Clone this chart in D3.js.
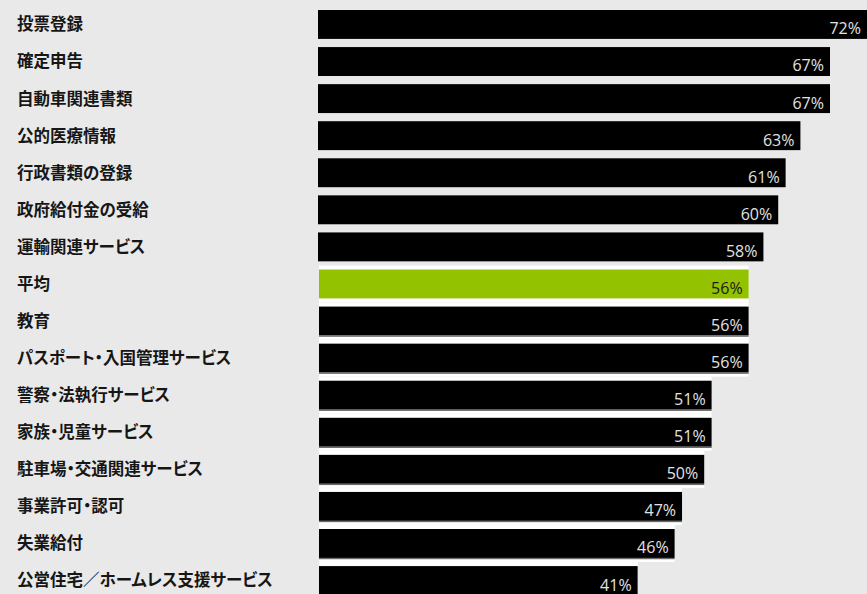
<!DOCTYPE html>
<html><head><meta charset="utf-8">
<script src="https://cdn.jsdelivr.net/npm/d3@7/dist/d3.min.js"></script>
<style>
html,body{margin:0;padding:0;background:#e9e9e9;}
svg{display:block;}
</style></head>
<body>
<script>
const categories = ["投票登録","確定申告","自動車関連書類","公的医療情報","行政書類の登録","政府給付金の受給","運輸関連サービス","平均","教育","パスポート・入国管理サービス","警察・法執行サービス","家族・児童サービス","駐車場・交通関連サービス","事業許可・認可","失業給付","公営住宅／ホームレス支援サービス"];
const values = [72,67,67,63,61,60,58,56,56,56,51,51,50,47,46,41];
const highlight = "平均";

const W = 867, H = 594;
const data = categories.map((c,i)=>({c, v: values[i], i}));
const hiIndex = categories.indexOf(highlight);

const svg = d3.select("body").append("svg").attr("width", W).attr("height", H);
svg.append("rect").attr("width", W).attr("height", H).attr("fill", "#e9e9e9");

const x = d3.scaleLinear().domain([-2.2, 72]).range([318, 867]);
const x0 = 318;
const y = d3.scaleBand().domain(categories).range([10, 595]).paddingInner(0.22).paddingOuter(0);

// white backing panels for the lower group
svg.append("g").selectAll("rect").data(data.filter(d=>d.i>=hiIndex)).join("rect")
  .attr("x", x0+1).attr("y", d=>y(d.c)-4)
  .attr("width", d=>x(d.v)-x0-1).attr("height", y.bandwidth()+8)
  .attr("fill", "#ffffff");

svg.append("g").selectAll("rect").data(data).join("rect")
  .attr("x", d=> d.i>=hiIndex ? x0+1 : x0)
  .attr("y", d=>y(d.c))
  .attr("width", d=>x(d.v)-x0-(d.i>=hiIndex?1:0))
  .attr("height", y.bandwidth())
  .attr("fill", d=>d.c===highlight ? "#93c200" : "#000000");

// thin grey seams under lower black bars
svg.append("g").selectAll("rect").data(data.filter(d=>d.i>hiIndex)).join("rect")
  .attr("x", x0+1).attr("y", d=>y(d.c)+y.bandwidth())
  .attr("width", d=>x(d.v)-x0-1).attr("height", 1.3)
  .attr("fill", "#6a6a6a");

// category labels
svg.append("g").selectAll("text").data(data).join("text")
  .attr("x", 17).attr("y", d=>y(d.c)+y.bandwidth()/2)
  .attr("dy", "0.36em")
  .attr("font-family", "'Noto Sans CJK JP', 'Noto Sans', sans-serif")
  .attr("font-weight", 700)
  .attr("font-size", "16.5px")
  .style("font-feature-settings", "'palt' 1")
  .attr("fill", "#161616")
  .text(d=>d.c);

// value labels
svg.append("g").selectAll("text").data(data).join("text")
  .attr("x", d=>Math.min(x(d.v)-6, W-2))
  .attr("y", d=>y(d.c)+y.bandwidth()-4.5)
  .attr("text-anchor", "end")
  .attr("font-family", "'Open Sans', 'Noto Sans', sans-serif")
  .attr("font-size", "16px")
  .attr("fill", d=>d.c===highlight ? "#1a1a1a" : "#e2e2e2")
  .text(d=>d.v+"%");
</script>
</body></html>
